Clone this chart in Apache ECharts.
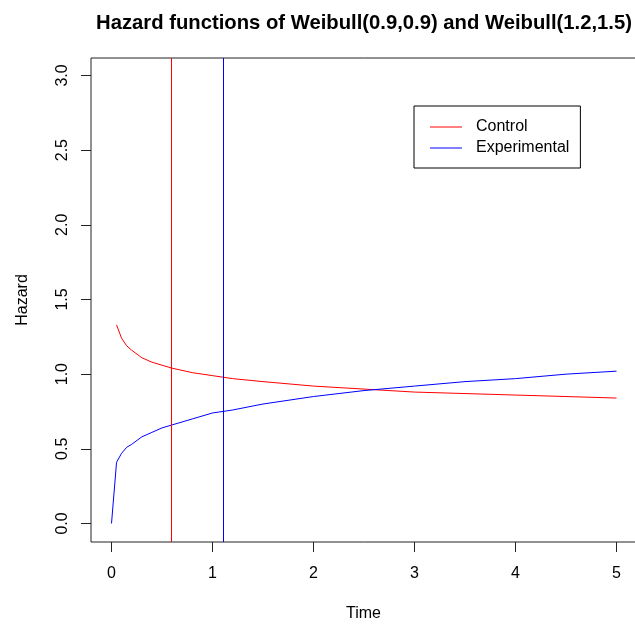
<!DOCTYPE html>
<html>
<head>
<meta charset="utf-8">
<script src="https://cdn.jsdelivr.net/npm/echarts@6/dist/echarts.min.js"></script>
<style>
  html, body { margin: 0; padding: 0; background: #fff; }
  #chart { width: 635px; height: 625px; }
</style>
</head>
<body>
<div id="chart"></div>
<script>
// Hazard curves sampled over time
const controlTime = [0.05, 0.1, 0.15, 0.2, 0.3, 0.4, 0.5, 0.6, 0.8, 1.0, 1.2, 1.5, 2.0, 2.5, 3.0, 3.5, 4.0, 4.5, 5.0];
const controlHazard = [1.33, 1.24, 1.19, 1.16, 1.11, 1.08, 1.06, 1.04, 1.01, 0.99, 0.97, 0.95, 0.92, 0.90, 0.88, 0.87, 0.86, 0.85, 0.84];
const experimentalTime = [0, 0.05, 0.1, 0.15, 0.2, 0.3, 0.4, 0.5, 0.6, 0.8, 1.0, 1.2, 1.5, 2.0, 2.5, 3.0, 3.5, 4.0, 4.5, 5.0];
const experimentalHazard = [0, 0.41, 0.47, 0.51, 0.53, 0.58, 0.61, 0.64, 0.66, 0.70, 0.74, 0.76, 0.80, 0.85, 0.89, 0.92, 0.95, 0.97, 1.00, 1.02];

// Median times marked with vertical lines
const controlMark = 0.594;
const experimentalMark = 1.109;

// Axis ranges (padded beyond the data) and tick positions
const xRange = [-0.203, 5.193];
const yRange = [-0.124, 3.117];
const xTicks = [0, 1, 2, 3, 4, 5];
const yTicks = [0, 0.5, 1.0, 1.5, 2.0, 2.5, 3.0];

const seriesNames = ['Control', 'Experimental'];
const titleText = 'Hazard functions of Weibull(0.9,0.9) and Weibull(1.2,1.5)';

const RED = '#ff0000';
const BLUE = '#0000ff';
const FONT = "'Liberation Sans', Arial, Helvetica, sans-serif";

function pairs(xs, ys) {
  return xs.map((x, i) => [x, ys[i]]);
}

// A vertical line spanning the full y range at time t
function verticalLine(t) {
  return [[t, yRange[0]], [t, yRange[1]]];
}

const chart = echarts.init(document.getElementById('chart'), null, { renderer: 'canvas' });

chart.setOption({
  backgroundColor: '#ffffff',
  animation: false,
  title: {
    text: titleText,
    left: 359,
    textAlign: 'center',
    top: 8,
    textStyle: { fontFamily: FONT, fontSize: 20.25, fontWeight: 'bold', color: '#000' }
  },
  legend: {
    orient: 'vertical',
    left: 414,
    top: 106,
    padding: [13, 11, 12, 16],
    icon: 'rect',
    itemWidth: 32,
    itemHeight: 1,
    itemGap: 5,
    borderColor: '#000',
    borderWidth: 1,
    backgroundColor: '#fff',
    textStyle: { fontFamily: FONT, fontSize: 16, color: '#000', padding: [0, 0, 0, 9] },
    data: seriesNames
  },
  grid: {
    left: 91,
    top: 58,
    width: 545,
    height: 484,
    outerBoundsMode: 'none',
    containLabel: false,
    show: true,
    borderColor: '#222',
    borderWidth: 1,
    backgroundColor: 'transparent'
  },
  xAxis: {
    type: 'value',
    min: xRange[0],
    max: xRange[1],
    name: 'Time',
    nameLocation: 'middle',
    nameGap: 64,
    nameTextStyle: { fontFamily: FONT, fontSize: 16, color: '#000' },
    axisLine: { show: false, onZero: false },
    splitLine: { show: false },
    axisTick: { show: true, inside: false, length: 10, customValues: xTicks, lineStyle: { color: '#222' } },
    axisLabel: {
      customValues: xTicks,
      margin: 24,
      fontFamily: FONT,
      fontSize: 16,
      color: '#000'
    }
  },
  yAxis: {
    type: 'value',
    min: yRange[0],
    max: yRange[1],
    name: 'Hazard',
    nameLocation: 'middle',
    nameRotate: 90,
    nameGap: 60,
    nameTextStyle: { fontFamily: FONT, fontSize: 16, color: '#000' },
    axisLine: { show: false, onZero: false },
    splitLine: { show: false },
    axisTick: { show: true, inside: false, length: 10, customValues: yTicks, lineStyle: { color: '#222' } },
    axisLabel: {
      customValues: yTicks,
      rotate: 90,
      margin: 20,
      fontFamily: FONT,
      fontSize: 16,
      color: '#000',
      formatter: v => v.toFixed(1)
    }
  },
  series: [
    {
      name: seriesNames[0],
      type: 'line',
      data: pairs(controlTime, controlHazard),
      symbol: 'none',
      color: RED,
      lineStyle: { color: RED, width: 1 }
    },
    {
      name: seriesNames[1],
      type: 'line',
      data: pairs(experimentalTime, experimentalHazard),
      symbol: 'none',
      color: BLUE,
      lineStyle: { color: BLUE, width: 1 }
    },
    {
      name: 'controlMark',
      type: 'line',
      data: verticalLine(controlMark),
      symbol: 'none',
      silent: true,
      color: RED,
      lineStyle: { color: RED, width: 1 }
    },
    {
      name: 'experimentalMark',
      type: 'line',
      data: verticalLine(experimentalMark),
      symbol: 'none',
      silent: true,
      color: BLUE,
      lineStyle: { color: BLUE, width: 1 }
    }
  ]
});
</script>
</body>
</html>
